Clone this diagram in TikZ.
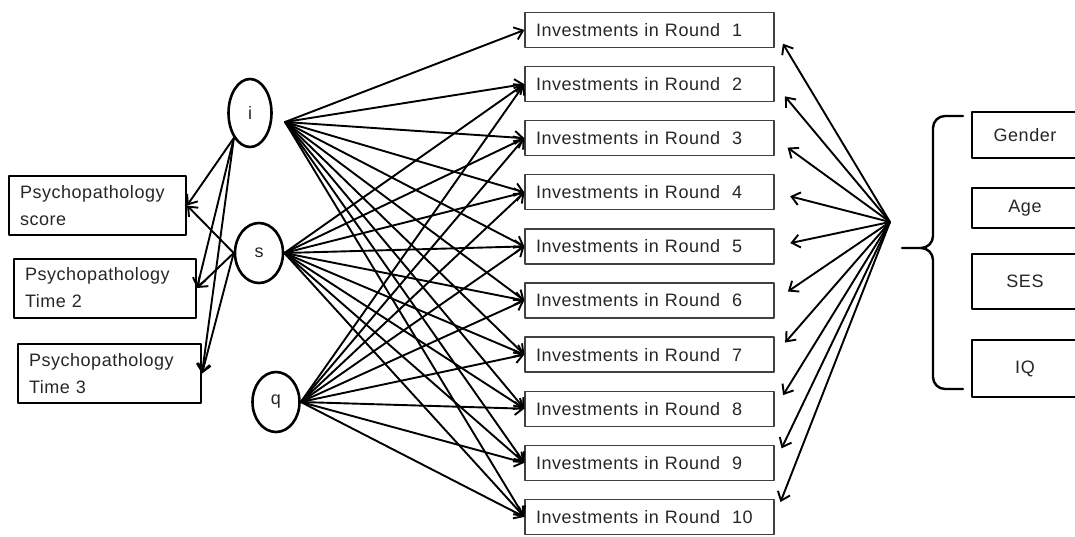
\documentclass[tikz,border=0pt]{standalone}
\usepackage{fontspec}
\setmainfont{Liberation Sans}[LetterSpace=3.0]
\usetikzlibrary{shapes.geometric,arrows.meta}

\tikzset{
  round/.style={draw=black!75, line width=1.3pt, minimum width=249pt, minimum height=35pt,
    text width=227pt, inner xsep=11pt, align=left},
  psy/.style={draw, line width=2pt, minimum height=59pt, text width=#1, inner xsep=11pt, align=left},
  covbox/.style={draw, line width=2pt, minimum width=106pt},
  latent/.style={draw, ellipse, line width=2.6pt, inner sep=0pt},
}

\begin{document}
\begin{tikzpicture}[x=1pt, y=-1pt, font=\fontsize{18}{27}\selectfont, text=black!85,
  line join=round, line cap=round, >={Straight Barb[length=8pt,width=13pt]}]
\useasboundingbox (0,0) rectangle (1075,536);

% growth factors
\node[latent, minimum width=43pt, minimum height=68pt] (i) at (250,113) {i};
\node[latent, minimum width=48pt, minimum height=60pt] (s) at (259,253) {s};
\node[latent, minimum width=47pt, minimum height=60pt] (q) at (276,402) {q};
\coordinate (ihub) at (285,122);

% outcome
\node[psy=155pt] (score) at (97.5,205.5) {Psychopathology\\score};
\node[psy=160pt] (time2) at (105,288) {Psychopathology\\Time 2};
\node[psy=161pt] (time3) at (109.5,373.5) {Psychopathology\\Time 3};

% repeated investments
\foreach \k in {1,...,10}
  \node[round] (r\k) at (649.5,{30+54.1*(\k-1)}) {Investments in Round~ \k};

% covariates
\node[covbox, minimum height=46pt] (gender) at (1025,135) {Gender};
\node[covbox, minimum height=40pt] (age) at (1025,208) {Age};
\node[covbox, minimum height=55pt] (ses) at (1025,281.5) {SES};
\node[covbox, minimum height=57pt] (iq) at (1025,368.5) {IQ};
\coordinate (cov) at (890,222);

\begin{scope}[line width=1.9pt]
  \foreach \t in {score,time2,time3} {
    \draw[->] (i.south west) -- (\t.east);
    \draw[->] (s.west) -- (\t.east);
  }
  \foreach \k in {1,...,10}
    \draw[->] (ihub) -- (r\k.west);
  \foreach \k in {2,...,10} {
    \draw[->] (s.east) -- (r\k.west);
    \draw[->] (q.east) -- (r\k.west);
  }
  \foreach \k in {1,...,10}
    \draw[->, shorten >=16pt] (cov) -- (r\k.east);
\end{scope}

% brace
\draw[line width=2.4pt] (963,116) -- (945,116) to[out=180,in=90] (933,128) -- (933,236)
  to[out=-90,in=0] (921,248) -- (902,248)
  (921,248) to[out=0,in=90] (933,260) -- (933,377) to[out=-90,in=180] (945,389) -- (963,389);
\end{tikzpicture}
\end{document}
